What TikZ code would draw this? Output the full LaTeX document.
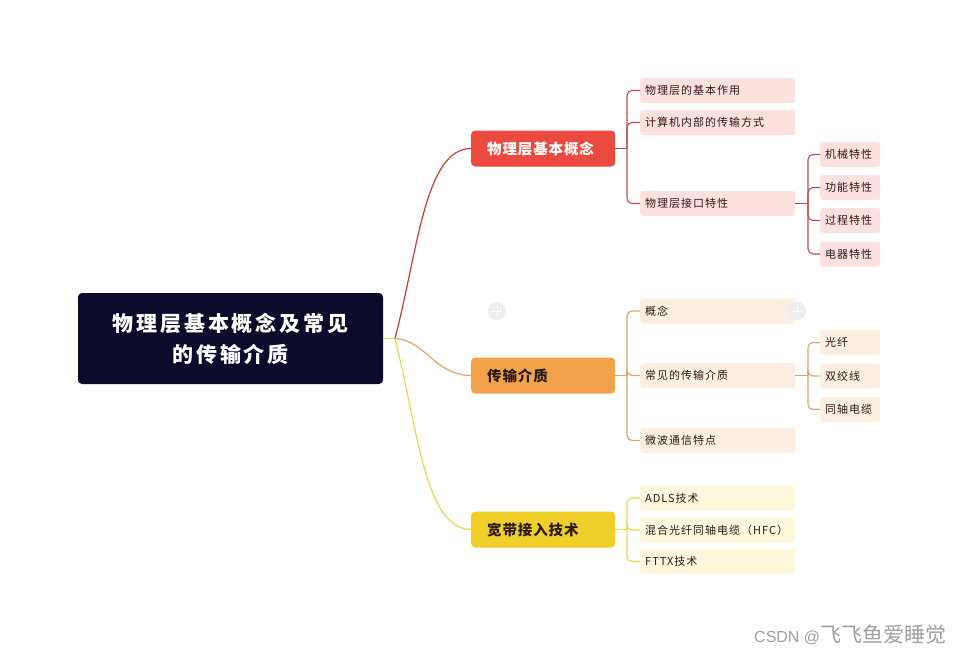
\documentclass[tikz,border=0pt]{standalone}
\usepackage{fontspec}
\newfontfamily\cjk{Noto Sans CJK SC}
\newfontfamily\cjkroot[LetterSpace=14]{Noto Sans CJK SC}
\newfontfamily\cjkone[LetterSpace=6]{Noto Sans CJK SC}
\newfontfamily\cjktwo[LetterSpace=9]{Noto Sans CJK SC}
\newfontfamily\wmfont{Liberation Sans}
\definecolor{rootc}{HTML}{0D0B2C}
\definecolor{redc}{HTML}{EA4A3F}
\definecolor{orgc}{HTML}{F1A24A}
\definecolor{yelc}{HTML}{F0CF2B}
\definecolor{pinkc}{HTML}{FDE1DF}
\definecolor{peachc}{HTML}{FDEEE2}
\definecolor{creamc}{HTML}{FDF7DC}
\definecolor{redline}{HTML}{C24C4A}
\definecolor{orgline}{HTML}{E2A466}
\definecolor{yelline}{HTML}{EDD54E}
\definecolor{txt}{HTML}{2A1A18}
\begin{document}
\begin{tikzpicture}[x=1pt,y=-1pt,
  rootbox/.style={rectangle,rounded corners=4pt,fill=rootc,text=white,minimum width=305pt,minimum height=91pt,align=center,font=\cjkroot\bfseries\fontsize{21}{31}\selectfont},
  lone/.style={rectangle,rounded corners=4pt,anchor=west,minimum width=144pt,minimum height=36pt,inner xsep=16pt,text width=112pt,align=left,font=\cjkone\bfseries\fontsize{14.5}{16}\selectfont},
  ltwo/.style={rectangle,rounded corners=3pt,anchor=west,minimum width=155pt,minimum height=25pt,inner xsep=5pt,text width=145pt,align=left,text=txt,font=\cjktwo\fontsize{11}{13}\selectfont},
  lthree/.style={rectangle,rounded corners=3pt,anchor=west,minimum width=60pt,minimum height=25pt,inner xsep=5pt,text width=50pt,align=left,text=txt,font=\cjktwo\fontsize{11}{13}\selectfont},
  conn/.style={line width=1.2pt},
  brk/.style={line width=1.1pt,rounded corners=5pt},
  btn/.style={circle,fill=gray!14,minimum size=18pt,inner sep=0pt}
]
\useasboundingbox[fill=white] (0,0) rectangle (960,654);

% root
\node[rootbox] (root) at (230.5,338.5) {物理层基本概念及常见\\的传输介质};
\coordinate (hub) at (395,338.5);

% level 1
\node[lone,fill=redc,text=white] (a) at (471,148.5) {物理层基本概念};
\node[lone,fill=orgc,text=txt] (b) at (471,375.5) {传输介质};
\node[lone,fill=yelc,text=txt] (c) at (471,529.5) {宽带接入技术};

% level 2 red
\node[ltwo,fill=pinkc] (a1) at (640,90.5) {物理层的基本作用};
\node[ltwo,fill=pinkc] (a2) at (640,122.5) {计算机内部的传输方式};
\node[ltwo,fill=pinkc] (a3) at (640,203.5) {物理层接口特性};
% level 3 red
\node[lthree,fill=pinkc] (a31) at (820,154.5) {机械特性};
\node[lthree,fill=pinkc] (a32) at (820,187.5) {功能特性};
\node[lthree,fill=pinkc] (a33) at (820,220.5) {过程特性};
\node[lthree,fill=pinkc] (a34) at (820,254) {电器特性};

% level 2 orange
\node[ltwo,fill=peachc] (b1) at (640,311) {概念};
\node[ltwo,fill=peachc] (b2) at (640,375.5) {常见的传输介质};
\node[ltwo,fill=peachc] (b3) at (640,440.5) {微波通信特点};
% level 3 orange
\node[lthree,fill=peachc] (b21) at (820,342.5) {光纤};
\node[lthree,fill=peachc] (b22) at (820,376) {双绞线};
\node[lthree,fill=peachc] (b23) at (820,409.5) {同轴电缆};

% level 2 yellow
\node[ltwo,fill=creamc] (c1) at (640,498) {ADLS技术};
\node[ltwo,fill=creamc] (c2) at (640,530) {混合光纤同轴电缆（HFC）};
\node[ltwo,fill=creamc] (c3) at (640,561.5) {FTTX技术};

% faint buttons
\node[btn] (p1) at (497,311) {};
\node[btn] (p2) at (797,311) {};
\draw[white,line width=1pt] ([xshift=-5pt]p1.center) -- ([xshift=5pt]p1.center) ([yshift=-5pt]p1.center) -- ([yshift=5pt]p1.center);
\draw[white,line width=1pt] ([xshift=-5pt]p2.center) -- ([xshift=5pt]p2.center) ([yshift=-5pt]p2.center) -- ([yshift=5pt]p2.center);

% root connectors
\draw[conn,yelline] (root.east |- hub) -- (hub);
\draw[conn,redc!85!black] (hub) .. controls (418,250) and (425,148.5) .. (a.west);
\draw[conn,orgline] (hub) .. controls (425,340) and (435,375.5) .. (b.west);
\draw[conn,yelline] (hub) .. controls (418,430) and (425,529.5) .. (c.west);

% red brackets
\coordinate (ax) at (627,148.5);
\draw[brk,redline] (a.east) -- (ax);
\foreach \n in {a1,a2,a3} \draw[brk,redline] (ax) |- (\n.west);
\coordinate (a3x) at (808,203.5);
\draw[brk,redline] (a3.east) -- (a3x);
\foreach \n in {a31,a32,a33,a34} \draw[brk,redline] (a3x) |- (\n.west);

% orange brackets
\coordinate (bx) at (627,375.5);
\draw[brk,orgline] (b.east) -- (bx);
\foreach \n in {b1,b2,b3} \draw[brk,orgline] (bx) |- (\n.west);
\coordinate (b2x) at (808,375.5);
\draw[brk,orgline] (b2.east) -- (b2x);
\foreach \n in {b21,b22,b23} \draw[brk,orgline] (b2x) |- (\n.west);

% yellow brackets
\coordinate (cx) at (627,529.5);
\draw[brk,yelline] (c.east) -- (cx);
\foreach \n in {c1,c2,c3} \draw[brk,yelline] (cx) |- (\n.west);

% watermark
\node[anchor=west,text=gray!75,inner sep=0pt] (wm) at (754,635) {\wmfont\fontsize{16}{18}\selectfont CSDN @\cjk\fontsize{21}{22}\selectfont 飞飞鱼爱睡觉};
\end{tikzpicture}
\end{document}
